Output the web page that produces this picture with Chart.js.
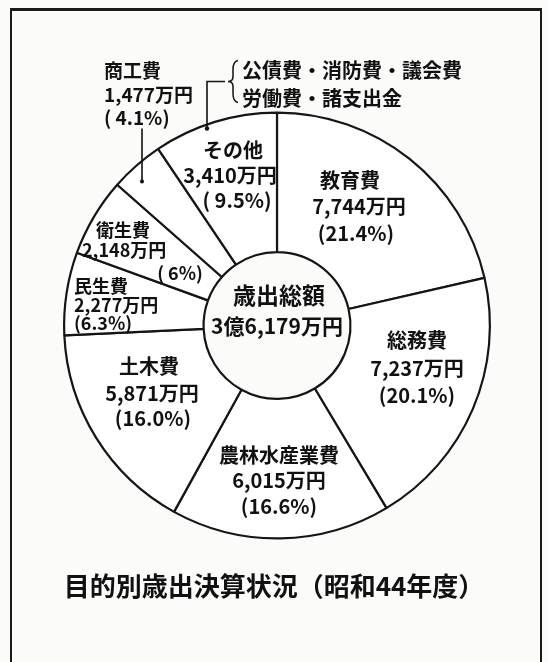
<!DOCTYPE html>
<html>
<head>
<meta charset="utf-8">
<script src="https://cdn.jsdelivr.net/npm/chart.js@4/dist/chart.umd.min.js"></script>
<style>
  html, body { margin: 0; padding: 0; background: #fbfbfa; }
  #wrap { position: relative; width: 548px; height: 662px; overflow: hidden; }
  #frame { position: absolute; left: 10px; top: 8px; width: 532px; height: 700px;
           border: 2px solid #1a1a1a; border-top-width: 3px; box-sizing: border-box; }
  canvas { position: absolute; left: 0; top: 0; }
  #title { position: absolute; left: 0; width: 548px; top: 566px; text-align: center;
           font-family: "Noto Sans CJK JP", sans-serif; font-weight: bold; font-size: 26px;
           color: #111; }
</style>
</head>
<body>
<div id="wrap">
  <div id="frame"></div>
  <canvas id="c" width="548" height="662"></canvas>
  <div id="title">目的別歳出決算状況（昭和44年度）</div>
</div>
<script>
// ---- data ----
const categories = ['教育費', '総務費', '農林水産業費', '土木費', '民生費', '衛生費', '商工費', 'その他'];
const values = [7744, 7237, 6015, 5871, 2277, 2148, 1477, 3410];           // 万円
const pctLabels = ['(21.4%)', '(20.1%)', '(16.6%)', '(16.0%)', '(6.3%)', '( 6%)', '( 4.1%)', '( 9.5%)'];
const centerLabels = ['歳出総額', '3億6,179万円'];
const otherNote = ['公債費・消防費・議会費', '労働費・諸支出金'];

// ---- label layout (offsets from the pie centre, px) ----
const labelLayout = [
  { size: 20, lines: [[73, -145, 'center'], [82, -119, 'center'], [79, -92, 'center']] },
  { size: 20, lines: [[140, 15, 'center'], [140, 43, 'center'], [140, 70, 'center']] },
  { size: 20, lines: [[2, 130, 'center'], [2, 155, 'center'], [2, 181, 'center']] },
  { size: 20, lines: [[-128, 41, 'center'], [-125, 68, 'center'], [-124, 93, 'center']] },
  { size: 18, lines: [[-203, -39, 'left'], [-203, -20, 'left'], [-203, -2, 'left']] },
  { size: 18, lines: [[-181, -95, 'left'], [-195, -75, 'left'], [-97, -52, 'center']] },
  { size: 19, lines: [[-173, -255, 'left'], [-173, -231, 'left'], [-173, -208, 'left']] },
  { size: 20, lines: [[-44, -175, 'center'], [-47, -150, 'center'], [-40, -125, 'center']] }
];

function fmt(v) { return v.toLocaleString('en-US') + '万円'; }

const FONT = '"Noto Sans CJK JP", "Noto Sans CJK SC", sans-serif';

const labelPlugin = {
  id: 'sliceLabels',
  afterDatasetsDraw(chart) {
    const ctx = chart.ctx;
    const meta = chart.getDatasetMeta(0);
    const arc0 = meta.data[0];
    const cx = arc0.x, cy = arc0.y;
    ctx.save();
    ctx.fillStyle = '#111';
    ctx.strokeStyle = '#111';
    ctx.textBaseline = 'middle';
    categories.forEach((name, i) => {
      const L = labelLayout[i];
      const texts = [name, fmt(values[i]), pctLabels[i]];
      ctx.font = 'bold ' + L.size + 'px ' + FONT;
      L.lines.forEach((ln, j) => {
        ctx.textAlign = ln[2];
        ctx.fillText(texts[j], cx + ln[0], cy + ln[1]);
      });
    });
    // centre
    ctx.textAlign = 'center';
    ctx.font = 'bold 23px ' + FONT;
    ctx.fillText(centerLabels[0], cx + 2, cy - 30);
    ctx.font = 'bold 21px ' + FONT;
    ctx.fillText(centerLabels[1], cx, cy + 1);
    // note for その他
    ctx.textAlign = 'left';
    ctx.font = 'bold 20px ' + FONT;
    ctx.fillText(otherNote[0], cx - 35, cy - 255);
    ctx.fillText(otherNote[1], cx - 35, cy - 227);
    // leader lines
    ctx.lineWidth = 1.6;
    ctx.beginPath();
    ctx.moveTo(cx - 135, cy - 197);
    ctx.lineTo(cx - 135, cy - 144);
    ctx.stroke();
    ctx.beginPath(); ctx.arc(cx - 135, cy - 144, 2, 0, Math.PI * 2); ctx.fill();
    ctx.beginPath();
    ctx.moveTo(cx - 70, cy - 197);
    ctx.lineTo(cx - 70, cy - 244);
    ctx.lineTo(cx - 52, cy - 244);
    ctx.stroke();
    ctx.beginPath(); ctx.arc(cx - 70, cy - 197, 2.2, 0, Math.PI * 2); ctx.fill();
    // brace
    ctx.lineWidth = 1.5;
    ctx.beginPath();
    const bx = cx - 44, by = cy - 244;
    ctx.moveTo(bx + 5, by - 21);
    ctx.quadraticCurveTo(bx, by - 20, bx, by - 12);
    ctx.lineTo(bx, by - 5);
    ctx.quadraticCurveTo(bx, by, bx - 5, by);
    ctx.quadraticCurveTo(bx, by, bx, by + 5);
    ctx.lineTo(bx, by + 12);
    ctx.quadraticCurveTo(bx, by + 20, bx + 5, by + 21);
    ctx.stroke();
    ctx.restore();
  }
};

new Chart(document.getElementById('c'), {
  type: 'doughnut',
  data: {
    labels: categories,
    datasets: [{
      data: values,
      backgroundColor: '#ffffff',
      borderColor: '#151515',
      borderWidth: 2.2,
      borderAlign: 'center'
    }]
  },
  options: {
    responsive: false,
    animation: false,
    cutout: '34.5%',
    rotation: 0,
    layout: { padding: { left: 63, right: 57, top: 111, bottom: 122 } },
    plugins: {
      legend: { display: false },
      tooltip: { enabled: false },
      title: { display: false }
    }
  },
  plugins: [labelPlugin]
});
</script>
</body>
</html>
